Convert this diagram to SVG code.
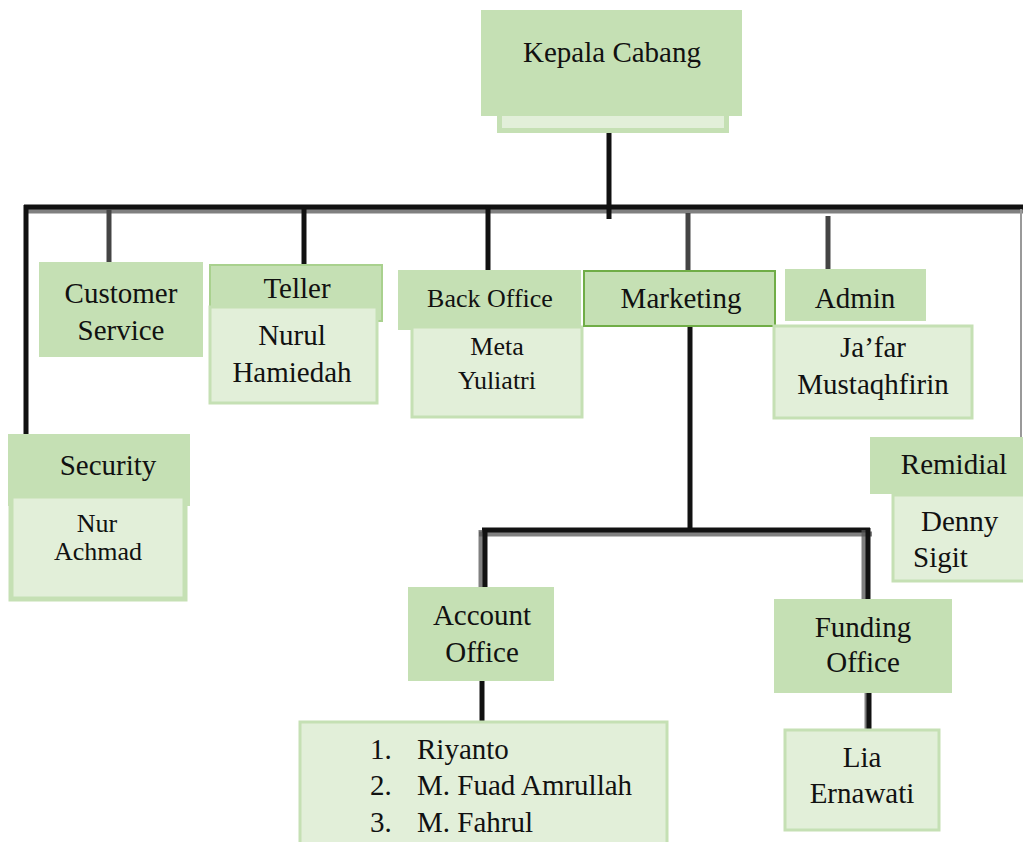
<svg xmlns="http://www.w3.org/2000/svg" width="1023" height="842" viewBox="0 0 1023 842">
<style>
.dark{fill:#c5e0b4}
.light{fill:#e2efd9;stroke:#c5e0b4;stroke-width:3}
.t{font-family:"Liberation Serif","Times New Roman",serif;font-size:29px;fill:#111}
.s{font-size:26px}
.c{text-anchor:middle}
.ln{stroke:#111;stroke-width:5;fill:none}
.sh{stroke:#555;stroke-width:5;fill:none;opacity:0.75}
.gr{stroke:#444;stroke-width:5;fill:none}
</style>
<rect width="1023" height="842" fill="#fff"/>
<g id="connectors">
<line class="sh" x1="24" y1="211" x2="1023" y2="211"/>
<line class="ln" x1="24" y1="207" x2="1023" y2="207"/>
<line class="ln" x1="26" y1="205" x2="26" y2="436"/>
<line class="gr" x1="109" y1="209" x2="109" y2="262"/>
<line class="ln" x1="304" y1="209" x2="304" y2="264"/>
<line class="ln" x1="488" y1="205" x2="488" y2="270"/>
<line class="ln" x1="609" y1="133" x2="609" y2="219"/>
<line class="gr" x1="688" y1="213" x2="688" y2="270"/>
<line class="gr" x1="828" y1="216" x2="828" y2="269"/>
<line stroke="#999" stroke-width="2" x1="1021" y1="209" x2="1021" y2="437"/>
<line class="ln" x1="690" y1="327" x2="690" y2="530"/>
<line class="sh" x1="479" y1="534" x2="872" y2="534"/>
<line class="ln" x1="482" y1="530" x2="870" y2="530"/>
<line class="sh" x1="481" y1="530" x2="481" y2="587"/>
<line class="ln" x1="485" y1="530" x2="485" y2="587"/>
<line class="sh" x1="864" y1="530" x2="864" y2="599"/>
<line class="ln" x1="868" y1="528" x2="868" y2="599"/>
<line class="ln" x1="482" y1="675" x2="482" y2="721"/>
<line class="sh" x1="867" y1="687" x2="867" y2="729"/>
<line class="ln" x1="869" y1="687" x2="869" y2="729"/>
</g>
<g id="kepala-cabang">
<rect class="dark" x="497" y="115" width="232" height="18"/>
<rect fill="#e2efd9" x="502" y="116" width="222" height="12"/>
<rect class="dark" x="481" y="10" width="261" height="106"/>
<text class="t c" x="612" y="62">Kepala Cabang</text>
</g>
<g id="customer-service">
<rect class="dark" x="39" y="262" width="164" height="95"/>
<text class="t c" x="121" y="303">Customer</text>
<text class="t c" x="121" y="340">Service</text>
</g>
<g id="teller">
<rect class="dark" x="210" y="265" width="172" height="56" stroke="#a9d18e" stroke-width="2"/>
<text class="t c" x="297" y="298">Teller</text>
<rect class="light" x="210" y="307" width="167" height="96"/>
<text class="t c" x="292" y="345">Nurul</text>
<text class="t c" x="292" y="382">Hamiedah</text>
</g>
<g id="back-office">
<rect class="dark" x="398" y="270" width="183" height="60"/>
<text class="t s c" x="490" y="307">Back Office</text>
<rect class="light" x="412" y="327" width="170" height="90"/>
<text class="t s c" x="497" y="355">Meta</text>
<text class="t s c" x="497" y="389">Yuliatri</text>
</g>
<g id="marketing">
<rect class="dark" x="584" y="271" width="191" height="55" stroke="#70ad47" stroke-width="2"/>
<text class="t c" x="681" y="308">Marketing</text>
</g>
<g id="admin">
<rect class="dark" x="785" y="269" width="141" height="52"/>
<text class="t c" x="855" y="308">Admin</text>
<rect class="light" x="774" y="326" width="198" height="92"/>
<text class="t c" x="873" y="357">Ja’far</text>
<text class="t c" x="873" y="394">Mustaqhfirin</text>
</g>
<g id="security">
<rect class="dark" x="8" y="434" width="182" height="72"/>
<text class="t c" x="108" y="475">Security</text>
<rect fill="#e2efd9" stroke="#c5e0b4" stroke-width="5" x="11" y="496" width="174" height="103"/>
<text class="t s c" x="97" y="532">Nur</text>
<text class="t s c" x="98" y="560">Achmad</text>
</g>
<g id="remidial">
<rect class="dark" x="870" y="437" width="153" height="57"/>
<text class="t c" x="954" y="474">Remidial</text>
<rect class="light" x="893" y="495" width="132" height="86"/>
<text class="t" x="921" y="531">Denny</text>
<text class="t" x="913" y="567">Sigit</text>
</g>
<g id="account-office">
<rect class="dark" x="408" y="587" width="146" height="94"/>
<text class="t c" x="482" y="625">Account</text>
<text class="t c" x="482" y="662">Office</text>
</g>
<g id="account-staff">
<rect class="light" x="300" y="722" width="367" height="130"/>
<text class="t" x="370" y="759">1.</text>
<text class="t" x="417" y="759">Riyanto</text>
<text class="t" x="370" y="795">2.</text>
<text class="t" x="417" y="795">M. Fuad Amrullah</text>
<text class="t" x="370" y="832">3.</text>
<text class="t" x="417" y="832">M. Fahrul</text>
</g>
<g id="funding-office">
<rect class="dark" x="774" y="599" width="178" height="94"/>
<text class="t c" x="863" y="637">Funding</text>
<text class="t c" x="863" y="672">Office</text>
</g>
<g id="funding-staff">
<rect class="light" x="785" y="730" width="154" height="100"/>
<text class="t c" x="862" y="767">Lia</text>
<text class="t c" x="862" y="803">Ernawati</text>
</g>
</svg>
